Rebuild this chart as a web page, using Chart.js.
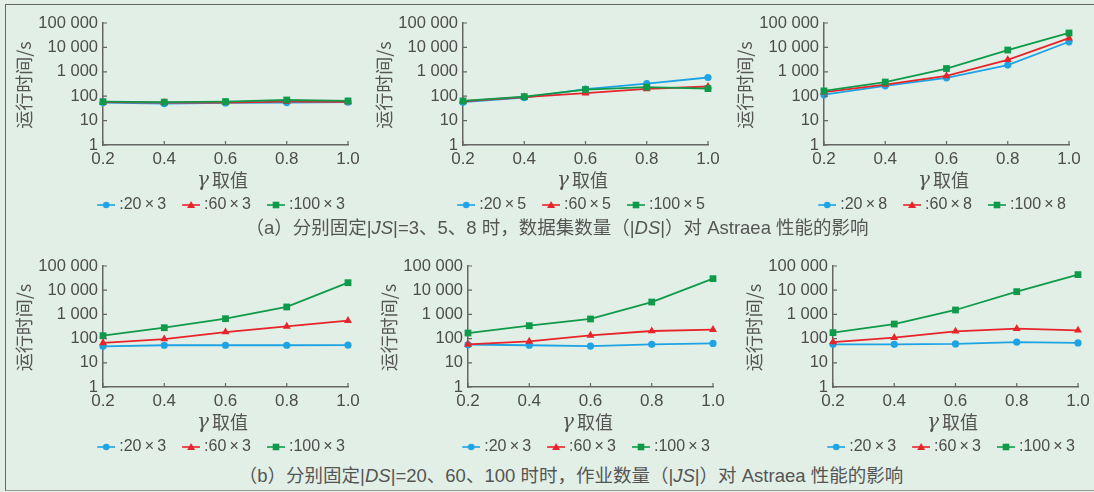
<!DOCTYPE html>
<html>
<head>
<meta charset="utf-8">
<script src="https://cdn.jsdelivr.net/npm/chart.js@4/dist/chart.umd.min.js"></script>
<style>
  html, body { margin: 0; padding: 0; }
  body {
    width: 1094px; height: 492px; overflow: hidden; position: relative;
    background: #e2efe6;
    font-family: "Liberation Sans", "Noto Sans CJK SC", sans-serif;
  }
  #frame {
    position: absolute; left: 5px; top: 4px; width: 1100px; height: 485px;
    border-left: 1.5px solid #666; border-top: 1.5px solid #666; border-bottom: 1.5px solid #999;
  }
  canvas { position: absolute; }
  .caption {
    position: absolute; width: 1094px; text-align: center; white-space: nowrap;
    font-size: 18.5px; line-height: 20px; color: #555;
  }
</style>
</head>
<body>
<div id="frame"></div>
<canvas id="c1"></canvas>
<canvas id="c2"></canvas>
<canvas id="c3"></canvas>
<canvas id="c4"></canvas>
<canvas id="c5"></canvas>
<canvas id="c6"></canvas>
<div class="caption" style="left:10px;top:218px">（a）分别固定|<i>JS</i>|=3、5、8 时，数据集数量（|<i>DS</i>|）对 Astraea 性能的影响</div>
<div class="caption" style="left:24px;top:466px">（b）分别固定|<i>DS</i>|=20、60、100 时时，作业数量（|<i>JS</i>|）对 Astraea 性能的影响</div>
<script>
// x values and y ticks
const gammaValues = [0.2, 0.4, 0.6, 0.8, 1.0];
const yTickValues = [1, 10, 100, 1000, 10000, 100000];

// (a) |JS| fixed at 3, 5, 8 — run time in s
const js3Ds20 = [55, 50, 53, 55, 57];
const js3Ds60 = [57, 55, 55, 60, 58];
const js3Ds100 = [60, 57, 60, 70, 64];
const labelsJs3 = [':20\u2009×\u20093', ':60\u2009×\u20093', ':100\u2009×\u20093'];

const js5Ds20 = [57, 88, 195, 330, 585];
const js5Ds60 = [62, 91, 133, 200, 250];
const js5Ds100 = [64, 96, 187, 235, 205];
const labelsJs5 = [':20\u2009×\u20095', ':60\u2009×\u20095', ':100\u2009×\u20095'];

const js8Ds20 = [116, 265, 565, 1880, 17000];
const js8Ds60 = [147, 300, 680, 3100, 24000];
const js8Ds100 = [165, 380, 1360, 7800, 39000];
const labelsJs8 = [':20\u2009×\u20098', ':60\u2009×\u20098', ':100\u2009×\u20098'];

// (b) |DS| fixed at 20, 60, 100
const ds20Low = [48, 53, 53, 53, 54];
const ds20Mid = [66, 96, 187, 320, 550];
const ds20High = [132, 282, 665, 2030, 20400];

const ds60Low = [56, 53, 49, 58, 63];
const ds60Mid = [58, 77, 136, 206, 234];
const ds60High = [170, 341, 647, 3240, 30000];

const ds100Low = [58, 58, 60, 72, 66];
const ds100Mid = [72, 109, 200, 257, 220];
const ds100High = [176, 400, 1520, 8700, 44000];
const labelsB = [':20\u2009×\u20093', ':60\u2009×\u20093', ':100\u2009×\u20093'];

const yTitle = '运行时间/s';
const xTitleSymbol = 'γ';
const xTitleText = '取值';

const seriesColors = ['#1ea3e4', '#e8242b', '#0f9a4b'];
const seriesMarkers = ['circle', 'triangle', 'rect'];
const markerSizes = [3.6, 4.6, 4.8];

Chart.defaults.font.family = '"Liberation Sans", "Noto Sans CJK SC", sans-serif';
Chart.defaults.color = '#4d4d4d';

// legend swatch: short line with the marker on it
function legendIcon(color, marker) {
  const c = document.createElement('canvas');
  c.width = 32; c.height = 12;
  const g = c.getContext('2d');
  g.strokeStyle = color; g.lineWidth = 1.6;
  g.beginPath(); g.moveTo(14, 6); g.lineTo(32, 6); g.stroke();
  g.fillStyle = color;
  const cx = 23, cy = 6;
  g.beginPath();
  if (marker === 'circle') {
    g.arc(cx, cy, 3.3, 0, Math.PI * 2);
  } else if (marker === 'triangle') {
    g.moveTo(cx, cy - 4); g.lineTo(cx + 4, cy + 3); g.lineTo(cx - 4, cy + 3); g.closePath();
  } else {
    g.rect(cx - 3.3, cy - 3.3, 6.6, 6.6);
  }
  g.fill();
  return c;
}

// small ticks pointing into the plot
const innerTicks = {
  id: 'innerTicks',
  afterDraw(chart) {
    const { ctx, chartArea, scales: { x, y } } = chart;
    ctx.save();
    ctx.strokeStyle = '#666';
    ctx.lineWidth = 1.2;
    ctx.beginPath();
    x.ticks.forEach((t) => {
      const px = x.getPixelForValue(t.value);
      ctx.moveTo(px, chartArea.bottom); ctx.lineTo(px, chartArea.bottom - 4);
    });
    y.ticks.forEach((t) => {
      const py = y.getPixelForValue(t.value);
      ctx.moveTo(chartArea.left, py); ctx.lineTo(chartArea.left + 4, py);
    });
    ctx.stroke();
    ctx.restore();
  }
};

// axis titles: rotated y title centred on the plot, x title with italic gamma
const axisTitles = {
  id: 'axisTitles',
  afterDraw(chart) {
    const { ctx, chartArea } = chart;
    ctx.save();
    ctx.fillStyle = '#555';
    ctx.textBaseline = 'middle';

    ctx.save();
    ctx.translate(21, (chartArea.top + chartArea.bottom) / 2 + 1);
    ctx.rotate(-Math.PI / 2);
    ctx.textAlign = 'center';
    ctx.font = '18px "Noto Sans CJK SC", sans-serif';
    ctx.fillText(yTitle, 0, 0);
    ctx.restore();

    const symFont = 'italic 20px "DejaVu Serif", serif';
    const txtFont = '18px "Noto Sans CJK SC", sans-serif';
    ctx.font = symFont;
    const wSym = ctx.measureText(xTitleSymbol).width;
    ctx.font = txtFont;
    const wTxt = ctx.measureText(xTitleText).width;
    const gap = 3;
    const cx = (chartArea.left + chartArea.right) / 2 - 3;
    const ty = chartArea.bottom + 35;
    let sx = cx - (wSym + gap + wTxt) / 2;
    ctx.textAlign = 'left';
    ctx.font = symFont;
    ctx.fillText(xTitleSymbol, sx, ty + 1);
    ctx.font = txtFont;
    ctx.fillText(xTitleText, sx + wSym + gap, ty);
    ctx.restore();
  }
};

function formatThousands(v) {
  return String(v).replace(/\B(?=(\d{3})+(?!\d))/g, ' ');
}

const canvasWidth = 426;
const yAxisWidth = 100;
const plotWidth = 245;
const xAxisHeight = 46;

function makePanel(id, plotLeft, plotTop, height, seriesList, labels) {
  const canvas = document.getElementById(id);
  canvas.width = canvasWidth;
  canvas.height = height;
  canvas.style.left = (plotLeft - yAxisWidth) + 'px';
  canvas.style.top = (plotTop - 10) + 'px';

  const datasets = seriesList.map((values, i) => ({
    label: labels[i],
    data: values.map((v, j) => ({ x: gammaValues[j], y: v })),
    borderColor: seriesColors[i],
    backgroundColor: seriesColors[i],
    borderWidth: 1.8,
    pointStyle: seriesMarkers[i],
    pointRadius: markerSizes[i],
    pointBorderWidth: 0,
    clip: false,
    order: 3 - i
  }));

  new Chart(canvas, {
    type: 'line',
    data: { datasets: datasets },
    options: {
      responsive: false,
      animation: false,
      devicePixelRatio: 1,
      events: [],
      layout: { padding: 0 },
      scales: {
        x: {
          type: 'linear',
          min: 0.2,
          max: 1.0,
          grid: { display: false, drawTicks: false },
          border: { color: '#666', width: 1.5 },
          afterBuildTicks: (scale) => { scale.ticks = gammaValues.map((v) => ({ value: v })); },
          afterFit: (scale) => {
            scale.height = xAxisHeight;
            scale.paddingRight = canvasWidth - yAxisWidth - plotWidth;
            scale.paddingLeft = 0;
          },
          ticks: {
            padding: 4,
            font: { size: 17 },
            color: '#4d4d4d',
            callback: (v) => Number(v).toFixed(1)
          },
          title: { display: false }
        },
        y: {
          type: 'logarithmic',
          min: 1,
          max: 100000,
          grid: { display: false, drawTicks: false },
          border: { color: '#666', width: 1.5 },
          afterBuildTicks: (scale) => { scale.ticks = yTickValues.map((v) => ({ value: v })); },
          afterFit: (scale) => {
            scale.width = yAxisWidth;
            scale.paddingTop = 10;
            scale.paddingBottom = 0;
          },
          ticks: {
            padding: 5,
            font: { size: 16.5 },
            color: '#4d4d4d',
            callback: (v) => formatThousands(v)
          },
          title: { display: false }
        }
      },
      plugins: {
        tooltip: { enabled: false },
        legend: {
          position: 'bottom',
          labels: {
            usePointStyle: true,
            pointStyleWidth: 24,
            padding: 6,
            font: { size: 16 },
            color: '#4d4d4d',
            generateLabels: (chart) => chart.data.datasets.map((ds, i) => ({
              text: ds.label,
              pointStyle: legendIcon(ds.borderColor, ds.pointStyle),
              fillStyle: ds.borderColor,
              strokeStyle: ds.borderColor,
              lineWidth: 0,
              hidden: false,
              datasetIndex: i,
              fontColor: '#4d4d4d'
            }))
          }
        }
      }
    },
    plugins: [innerTicks, axisTitles]
  });
}

makePanel('c1', 103, 23, 210, [js3Ds20, js3Ds60, js3Ds100], labelsJs3);
makePanel('c2', 463, 23, 210, [js5Ds20, js5Ds60, js5Ds100], labelsJs5);
makePanel('c3', 824, 23, 210, [js8Ds20, js8Ds60, js8Ds100], labelsJs8);
makePanel('c4', 103, 266, 209, [ds20Low, ds20Mid, ds20High], labelsB);
makePanel('c5', 468, 266, 209, [ds60Low, ds60Mid, ds60High], labelsB);
makePanel('c6', 833, 266, 209, [ds100Low, ds100Mid, ds100High], labelsB);
</script>
</body>
</html>
